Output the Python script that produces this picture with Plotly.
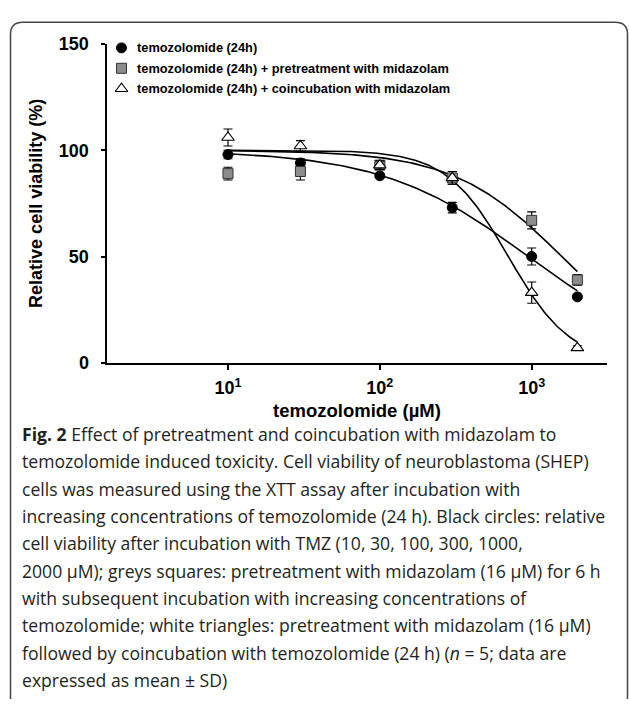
import numpy as np
import plotly.graph_objects as go

# ---------------- data ----------------
conc = [10, 30, 100, 300, 1000, 2000]            # temozolomide, µM
tmz_mean = [98, 94, 88, 73, 50, 31]
tmz_sd = [2, 2, 1, 2.5, 4, 1]
pre_mean = [89, 90, 93, 87, 67, 39]
pre_sd = [3, 4, 2, 3, 4, 2.5]
co_mean = [106, 102, 93, 87, 33, 7]
co_sd = [4, 2.5, 2, 3, 5, 1]

series_names = [
    "temozolomide (24h)",
    "temozolomide (24h) + pretreatment with midazolam",
    "temozolomide (24h) + coincubation with midazolam",
]

# fitted sigmoidal dose-response parameters (top, bottom, EC50 µM, Hill slope) estimated from curves
fit_tmz = (100, 0, 950, 0.9)
fit_pre = (100, 0, 1580, 1.21)
fit_co = (100, 0, 702, 2.13)

x_ticks = [10, 100, 1000]
x_ticktext = ["10<sup>1</sup>", "10<sup>2</sup>", "10<sup>3</sup>"]
y_ticks = [0, 50, 100, 150]
y_ticktext = ["0", "50", "100", "150"]
x_title = "temozolomide (µM)"
y_title = "Relative cell viability (%)"

caption_lines = [
    "<b>Fig. 2</b> Effect of pretreatment and coincubation with midazolam to",
    "temozolomide induced toxicity. Cell viability of neuroblastoma (SHEP)",
    "cells was measured using the XTT assay after incubation with",
    "increasing concentrations of temozolomide (24 h). Black circles: relative",
    "cell viability after incubation with TMZ (10, 30, 100, 300, 1000,",
    "2000 µM); greys squares: pretreatment with midazolam (16 µM) for 6 h",
    "with subsequent incubation with increasing concentrations of",
    "temozolomide; white triangles: pretreatment with midazolam (16 µM)",
    "followed by coincubation with temozolomide (24 h) (<i>n</i> = 5; data are",
    "expressed as mean ± SD)",
]

W, H = 629, 709
BOLD = "Liberation Sans"


def logistic(x, p):
    top, bottom, ec50, hill = p
    x = np.asarray(x, dtype=float)
    return bottom + (top - bottom) / (1 + (x / ec50) ** hill)


xfit = np.logspace(np.log10(conc[0]), np.log10(conc[-1]), 200)

fig = go.Figure()

# fitted curves
for p in (fit_tmz, fit_pre, fit_co):
    fig.add_trace(go.Scatter(x=xfit, y=logistic(xfit, p), mode="lines",
                             line=dict(color="black", width=1.6),
                             showlegend=False, hoverinfo="skip"))

marker_styles = [
    dict(symbol="circle", size=10, color="black", line=dict(color="black", width=1)),
    dict(symbol="square", size=10, color="#8c8c8c", line=dict(color="#333333", width=1)),
    dict(symbol="triangle-up", size=11, color="white", line=dict(color="black", width=1.1)),
]

for name, m, sd, ms in zip(series_names, [tmz_mean, pre_mean, co_mean],
                           [tmz_sd, pre_sd, co_sd], marker_styles):
    fig.add_trace(go.Scatter(
        x=conc, y=m, mode="markers", name=name, marker=ms,
        error_y=dict(type="data", array=sd, visible=True, color="black",
                     thickness=1.2, width=4.5),
        showlegend=False))

# hand-drawn legend glyphs on a pixel-space overlay axis
leg_x = 121.5
leg_y = [39, 60, 81]
for ms, ly in zip(marker_styles, leg_y):
    fig.add_trace(go.Scatter(x=[leg_x], y=[ly], mode="markers", marker=ms,
                             xaxis="x2", yaxis="y2", showlegend=False,
                             hoverinfo="skip"))

annotations = []
for name, ly in zip(series_names, leg_y):
    annotations.append(dict(xref="paper", yref="paper", x=135 / W, y=1 - ly / H,
                            xanchor="left", yanchor="middle", showarrow=False,
                            text="<b>%s</b>" % name,
                            font=dict(family=BOLD, size=12.8, color="black")))

x0px, x1px = 106.5, 607
y0px, y1px = 363, 35

# x-axis title (placed as annotation to control its vertical position)
annotations.append(dict(xref="paper", yref="paper", x=(x0px + x1px) / 2 / W,
                        y=1 - 412 / H, xanchor="center", yanchor="middle",
                        showarrow=False, text="<b>%s</b>" % x_title,
                        font=dict(family=BOLD, size=18.5, color="black")))

# caption
cap_top = 436.5
cap_step = 28.1
for i, line in enumerate(caption_lines):
    annotations.append(dict(xref="paper", yref="paper", x=20 / W,
                            y=1 - (cap_top + i * cap_step) / H,
                            xanchor="left", yanchor="middle", showarrow=False,
                            text=line,
                            font=dict(family="Open Sans", size=17.6, color="#231f20")))

fig.update_layout(
    width=W, height=H,
    margin=dict(l=0, r=0, t=0, b=0),
    paper_bgcolor="white", plot_bgcolor="rgba(0,0,0,0)",
    annotations=annotations,
    xaxis=dict(
        type="log", domain=[x0px / W, x1px / W],
        range=[0.2, 3.496],
        tickvals=x_ticks, ticktext=["<b>%s</b>" % t for t in x_ticktext],
        ticks="outside", ticklen=5, tickwidth=1.5, tickcolor="black",
        showline=True, linecolor="black", linewidth=2,
        showgrid=False, zeroline=False,
        tickfont=dict(family=BOLD, size=18, color="black"),
        ticklabelstandoff=3,
        anchor="y",
    ),
    yaxis=dict(
        domain=[1 - y0px / H, 1 - y1px / H],
        range=[0, 150], tickvals=y_ticks,
        ticktext=["<b>%s</b>" % t for t in y_ticktext],
        ticks="outside", ticklen=4, tickwidth=1.5, tickcolor="black",
        showline=True, linecolor="black", linewidth=2,
        showgrid=False, zeroline=False,
        tickfont=dict(family=BOLD, size=18, color="black"),
        ticklabelstandoff=8,
        title=dict(text="<b>%s</b>" % y_title, standoff=12,
                   font=dict(family=BOLD, size=18, color="black")),
        anchor="x",
    ),
    xaxis2=dict(domain=[0, 1], range=[0, W], visible=False, anchor="y2",
                fixedrange=True),
    yaxis2=dict(domain=[0, 1], range=[H, 0], visible=False, anchor="x2",
                fixedrange=True),
    shapes=[dict(type="path", xref="x2", yref="y2",
                 path="M 10.5,712 L 10.5,25 Q 10.5,12.5 23,12.5 L 615,12.5 Q 627.5,12.5 627.5,25 L 627.5,712",
                 line=dict(color="#444444", width=1.5))],
)

fig.write_html("out.html")
